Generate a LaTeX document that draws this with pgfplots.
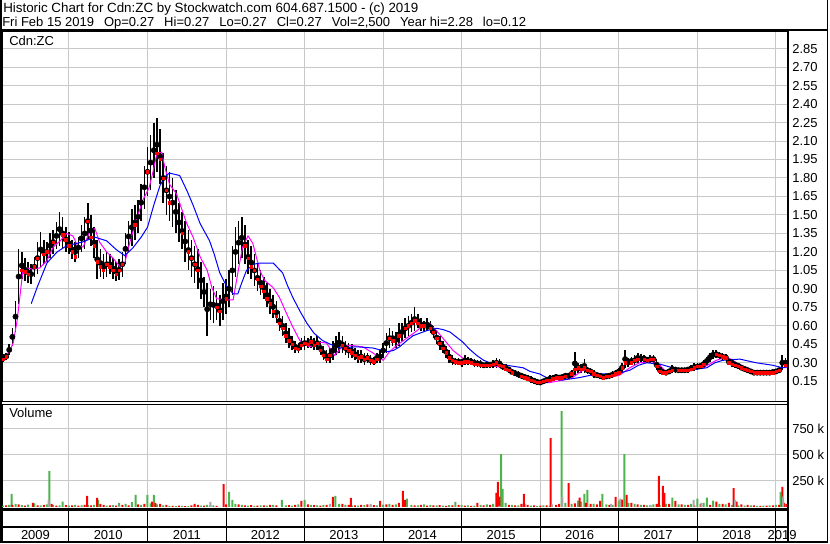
\documentclass[border=0pt]{standalone}
\usepackage{fontspec}
\setmainfont{Liberation Sans}
\usepackage{pgfplots}
\usepackage{pgfplotstable}
\pgfplotsset{compat=1.18}
\definecolor{gridgray}{HTML}{C8C8C8}
\definecolor{vgreen}{HTML}{4DB34D}
\definecolor{vgray}{HTML}{A8A8A8}
\definecolor{mablue}{HTML}{0000FF}
\definecolor{mamag}{HTML}{FF00FF}
\newcommand\gap{\hspace{7.5pt}}

% x = decimal year, lo/hi/cl = price range and close
\pgfplotstableread{
x lo hi cl
2009.16 0.31 0.37 0.33
2009.20 0.32 0.38 0.35
2009.24 0.36 0.45 0.42
2009.28 0.44 0.58 0.55
2009.32 0.55 0.80 0.76
2009.36 0.78 1.22 1.10
2009.40 0.98 1.20 1.05
2009.44 0.96 1.15 1.04
2009.48 0.95 1.12 1.02
2009.52 0.94 1.10 1.05
2009.56 1.00 1.16 1.08
2009.60 1.02 1.28 1.15
2009.64 1.08 1.36 1.25
2009.68 1.10 1.30 1.18
2009.72 1.12 1.28 1.20
2009.76 1.15 1.35 1.30
2009.80 1.18 1.38 1.28
2009.84 1.22 1.44 1.35
2009.88 1.25 1.52 1.40
2009.92 1.22 1.48 1.34
2009.96 1.20 1.40 1.30
2010.00 1.18 1.36 1.25
2010.04 1.14 1.30 1.20
2010.08 1.12 1.28 1.16
2010.12 1.15 1.32 1.25
2010.16 1.20 1.42 1.35
2010.20 1.22 1.48 1.40
2010.24 1.30 1.60 1.45
2010.28 1.25 1.50 1.32
2010.32 1.15 1.40 1.25
2010.36 0.98 1.30 1.12
2010.40 1.00 1.22 1.08
2010.44 0.98 1.18 1.05
2010.48 1.00 1.20 1.10
2010.52 1.02 1.18 1.08
2010.56 0.98 1.15 1.05
2010.60 0.96 1.12 1.02
2010.64 0.97 1.14 1.05
2010.68 1.00 1.20 1.10
2010.72 1.10 1.35 1.28
2010.76 1.20 1.45 1.35
2010.80 1.25 1.55 1.45
2010.84 1.30 1.58 1.42
2010.88 1.35 1.62 1.55
2010.92 1.45 1.75 1.65
2010.96 1.55 1.90 1.75
2011.00 1.65 2.05 1.85
2011.04 1.70 2.15 1.95
2011.08 1.80 2.25 2.05
2011.12 1.85 2.29 2.00
2011.16 1.75 2.20 1.95
2011.20 1.60 2.00 1.80
2011.24 1.50 1.90 1.70
2011.28 1.45 1.85 1.60
2011.32 1.40 1.80 1.65
2011.36 1.35 1.70 1.55
2011.40 1.28 1.60 1.45
2011.44 1.22 1.52 1.35
2011.48 1.12 1.45 1.30
2011.52 1.05 1.38 1.20
2011.56 1.00 1.30 1.15
2011.60 0.95 1.25 1.10
2011.64 0.90 1.22 1.05
2011.68 0.82 1.12 0.98
2011.72 0.75 1.00 0.90
2011.76 0.52 0.95 0.80
2011.80 0.65 0.90 0.78
2011.84 0.62 0.92 0.80
2011.88 0.65 0.88 0.75
2011.92 0.60 0.85 0.72
2011.96 0.65 0.95 0.85
2012.00 0.70 0.98 0.82
2012.04 0.75 1.05 0.95
2012.08 0.85 1.25 1.10
2012.12 1.00 1.40 1.25
2012.16 1.10 1.45 1.30
2012.20 1.15 1.48 1.35
2012.24 1.10 1.42 1.25
2012.28 1.02 1.30 1.15
2012.32 0.98 1.25 1.08
2012.36 0.92 1.18 1.05
2012.40 0.88 1.10 0.98
2012.44 0.85 1.05 0.92
2012.48 0.82 1.00 0.88
2012.52 0.75 0.95 0.82
2012.56 0.70 0.90 0.78
2012.60 0.66 0.85 0.72
2012.64 0.62 0.80 0.68
2012.68 0.56 0.72 0.62
2012.72 0.52 0.68 0.58
2012.76 0.46 0.62 0.52
2012.80 0.42 0.58 0.48
2012.84 0.40 0.52 0.45
2012.88 0.38 0.48 0.42
2012.92 0.38 0.46 0.41
2012.96 0.40 0.50 0.44
2013.00 0.40 0.52 0.46
2013.04 0.42 0.50 0.45
2013.08 0.42 0.52 0.47
2013.12 0.40 0.50 0.44
2013.16 0.40 0.52 0.46
2013.20 0.36 0.48 0.40
2013.24 0.32 0.44 0.36
2013.28 0.30 0.40 0.33
2013.32 0.30 0.42 0.36
2013.36 0.32 0.48 0.42
2013.40 0.36 0.52 0.45
2013.44 0.38 0.55 0.48
2013.48 0.38 0.52 0.44
2013.52 0.36 0.48 0.42
2013.56 0.34 0.46 0.40
2013.60 0.34 0.45 0.38
2013.64 0.32 0.42 0.36
2013.68 0.30 0.40 0.34
2013.72 0.30 0.40 0.35
2013.76 0.28 0.38 0.33
2013.80 0.30 0.38 0.34
2013.84 0.28 0.36 0.32
2013.88 0.28 0.35 0.31
2013.92 0.30 0.38 0.33
2013.96 0.30 0.40 0.36
2014.00 0.34 0.46 0.42
2014.04 0.38 0.54 0.48
2014.08 0.42 0.58 0.50
2014.12 0.44 0.56 0.48
2014.16 0.42 0.55 0.50
2014.20 0.44 0.62 0.52
2014.24 0.48 0.62 0.56
2014.28 0.50 0.66 0.58
2014.32 0.52 0.68 0.60
2014.36 0.55 0.70 0.62
2014.40 0.56 0.75 0.64
2014.44 0.58 0.70 0.62
2014.48 0.56 0.66 0.60
2014.52 0.56 0.64 0.60
2014.56 0.56 0.66 0.62
2014.60 0.54 0.64 0.58
2014.64 0.50 0.60 0.55
2014.68 0.45 0.56 0.50
2014.72 0.40 0.52 0.46
2014.76 0.38 0.48 0.42
2014.80 0.34 0.44 0.38
2014.84 0.30 0.40 0.34
2014.88 0.28 0.36 0.32
2014.92 0.28 0.34 0.31
2014.96 0.28 0.34 0.30
2015.00 0.27 0.33 0.30
2015.04 0.28 0.36 0.31
2015.08 0.28 0.35 0.31
2015.12 0.28 0.34 0.30
2015.16 0.27 0.33 0.29
2015.20 0.27 0.32 0.29
2015.24 0.26 0.32 0.28
2015.28 0.26 0.30 0.28
2015.32 0.26 0.31 0.28
2015.36 0.26 0.31 0.28
2015.40 0.26 0.32 0.29
2015.44 0.26 0.34 0.30
2015.48 0.26 0.33 0.28
2015.52 0.24 0.30 0.27
2015.56 0.23 0.29 0.25
2015.60 0.22 0.27 0.24
2015.64 0.20 0.25 0.22
2015.68 0.19 0.24 0.22
2015.72 0.18 0.23 0.21
2015.76 0.17 0.22 0.19
2015.80 0.16 0.21 0.18
2015.84 0.15 0.20 0.17
2015.88 0.14 0.19 0.16
2015.92 0.13 0.18 0.15
2015.96 0.12 0.17 0.14
2016.00 0.12 0.16 0.14
2016.04 0.13 0.17 0.15
2016.08 0.14 0.18 0.16
2016.12 0.14 0.20 0.16
2016.16 0.15 0.20 0.17
2016.20 0.16 0.21 0.18
2016.24 0.16 0.20 0.18
2016.28 0.16 0.21 0.18
2016.32 0.17 0.22 0.19
2016.36 0.17 0.22 0.20
2016.40 0.18 0.24 0.21
2016.44 0.20 0.39 0.25
2016.48 0.22 0.30 0.26
2016.52 0.22 0.29 0.25
2016.56 0.22 0.33 0.26
2016.60 0.21 0.27 0.24
2016.64 0.20 0.26 0.23
2016.68 0.18 0.24 0.21
2016.72 0.18 0.22 0.20
2016.76 0.17 0.22 0.19
2016.80 0.16 0.21 0.18
2016.84 0.17 0.21 0.19
2016.88 0.17 0.22 0.19
2016.92 0.18 0.23 0.20
2016.96 0.19 0.24 0.21
2017.00 0.20 0.26 0.22
2017.04 0.22 0.30 0.26
2017.08 0.26 0.40 0.30
2017.12 0.27 0.34 0.31
2017.16 0.28 0.35 0.30
2017.20 0.28 0.36 0.32
2017.24 0.30 0.38 0.33
2017.28 0.30 0.37 0.34
2017.32 0.31 0.36 0.33
2017.36 0.30 0.35 0.32
2017.40 0.30 0.36 0.33
2017.44 0.30 0.36 0.33
2017.48 0.24 0.33 0.27
2017.52 0.21 0.28 0.23
2017.56 0.20 0.25 0.22
2017.60 0.20 0.24 0.22
2017.64 0.21 0.25 0.23
2017.68 0.22 0.28 0.24
2017.72 0.22 0.27 0.25
2017.76 0.22 0.26 0.24
2017.80 0.22 0.26 0.24
2017.84 0.22 0.26 0.24
2017.88 0.22 0.27 0.24
2017.92 0.23 0.28 0.25
2017.96 0.23 0.30 0.26
2018.00 0.24 0.30 0.27
2018.04 0.25 0.30 0.27
2018.08 0.26 0.32 0.29
2018.12 0.28 0.35 0.32
2018.16 0.31 0.38 0.35
2018.20 0.33 0.40 0.37
2018.24 0.34 0.40 0.37
2018.28 0.33 0.39 0.36
2018.32 0.32 0.38 0.35
2018.36 0.32 0.37 0.34
2018.40 0.28 0.34 0.30
2018.44 0.27 0.33 0.29
2018.48 0.26 0.31 0.28
2018.52 0.25 0.30 0.27
2018.56 0.24 0.28 0.26
2018.60 0.23 0.27 0.25
2018.64 0.22 0.26 0.24
2018.68 0.21 0.25 0.23
2018.72 0.20 0.24 0.22
2018.76 0.20 0.24 0.22
2018.80 0.20 0.24 0.22
2018.84 0.20 0.24 0.22
2018.88 0.20 0.24 0.22
2018.92 0.20 0.24 0.22
2018.96 0.21 0.24 0.22
2019.00 0.21 0.25 0.23
2019.04 0.22 0.26 0.24
2019.08 0.24 0.36 0.32
2019.12 0.26 0.34 0.28
}\price

% volume in thousands, split by up / down / unchanged days
\pgfplotstableread{
x v
2009.16 12
2009.24 20
2009.27 125
2009.32 30
2009.40 18
2009.48 22
2009.56 35
2009.64 15
2009.72 25
2009.75 345
2009.80 20
2009.88 15
2009.92 50
2010.00 12
2010.08 20
2010.16 15
2010.24 18
2010.32 20
2010.37 67
2010.48 12
2010.56 18
2010.64 40
2010.72 30
2010.80 45
2010.85 115
2010.92 20
2011.00 115
2011.04 35
2011.08 115
2011.12 25
2011.20 15
2011.28 10
2011.36 8
2011.44 10
2011.52 8
2011.60 15
2011.68 12
2011.76 20
2011.84 15
2012.04 144
2012.08 67
2012.12 30
2012.20 20
2012.28 12
2012.36 10
2012.44 15
2012.52 12
2012.60 20
2012.71 67
2012.76 15
2012.84 12
2012.92 25
2013.00 67
2013.08 20
2013.16 15
2013.24 20
2013.39 106
2013.44 30
2013.52 20
2013.60 15
2013.68 12
2013.76 18
2013.84 20
2013.92 15
2014.00 22
2014.08 30
2014.16 25
2014.30 80
2014.36 20
2014.44 15
2014.52 25
2014.60 20
2014.68 15
2014.76 12
2014.84 18
2014.92 48
2015.00 20
2015.08 15
2015.16 12
2015.24 20
2015.32 25
2015.40 30
2015.50 508
2015.52 173
2015.56 40
2015.64 20
2015.72 15
2015.80 30
2015.88 12
2015.96 10
2016.04 15
2016.12 12
2016.27 922
2016.32 40
2016.40 30
2016.48 60
2016.52 50
2016.56 125
2016.60 163
2016.68 30
2016.79 125
2016.84 25
2016.92 20
2017.00 60
2017.07 508
2017.12 40
2017.20 30
2017.28 20
2017.36 15
2017.44 25
2017.52 20
2017.60 30
2017.68 90
2017.76 25
2017.84 20
2017.92 30
2018.00 80
2018.08 40
2018.12 90
2018.20 60
2018.28 30
2018.36 25
2018.44 20
2018.52 15
2018.60 12
2018.68 15
2018.76 10
2018.84 12
2018.92 15
2019.00 20
2019.06 144
2019.12 30
}\volup

\pgfplotstableread{
x v
2009.20 15
2009.28 20
2009.36 25
2009.44 12
2009.54 38
2009.60 15
2009.68 20
2009.78 30
2009.84 12
2009.96 18
2010.04 15
2010.12 12
2010.20 20
2010.23 106
2010.28 15
2010.36 86
2010.40 30
2010.44 20
2010.52 15
2010.60 12
2010.68 20
2010.76 15
2010.88 25
2010.96 30
2011.06 50
2011.10 40
2011.16 30
2011.24 20
2011.32 10
2011.40 12
2011.48 8
2011.56 15
2011.60 30
2011.64 20
2011.72 12
2011.80 15
2011.88 10
2011.97 220
2012.00 25
2012.16 25
2012.24 15
2012.32 18
2012.40 12
2012.48 15
2012.56 20
2012.64 15
2012.80 18
2012.88 20
2012.96 58
2013.04 25
2013.12 18
2013.20 12
2013.28 20
2013.36 96
2013.48 30
2013.56 20
2013.59 86
2013.64 15
2013.72 20
2013.80 25
2013.88 18
2013.96 58
2014.04 25
2014.12 20
2014.20 40
2014.25 154
2014.28 67
2014.40 15
2014.48 20
2014.56 12
2014.64 15
2014.72 18
2014.80 10
2014.88 15
2014.96 20
2015.04 12
2015.12 10
2015.20 40
2015.28 15
2015.36 20
2015.44 134
2015.46 240
2015.48 100
2015.60 20
2015.68 15
2015.76 30
2015.79 125
2015.84 20
2015.92 15
2016.00 12
2016.08 15
2016.13 662
2016.20 20
2016.24 30
2016.36 230
2016.44 35
2016.50 90
2016.58 40
2016.64 30
2016.72 25
2016.76 58
2016.88 20
2016.96 96
2017.04 70
2017.10 115
2017.16 40
2017.24 25
2017.32 20
2017.40 15
2017.48 30
2017.51 298
2017.56 202
2017.58 134
2017.64 30
2017.72 58
2017.80 25
2017.88 20
2017.96 15
2018.04 30
2018.16 20
2018.24 50
2018.32 30
2018.40 40
2018.46 182
2018.50 50
2018.56 25
2018.64 20
2018.72 15
2018.80 10
2018.88 12
2018.96 15
2019.04 20
2019.08 192
2019.10 40
2019.14 30
}\voldown

\pgfplotstableread{
x v
2009.74 67
2010.64 10
2011.80 48
2013.32 30
2013.84 30
2015.48 10
2016.15 25
2016.28 96
2016.90 30
2017.02 80
2017.40 20
2017.95 67
2018.05 40
2018.48 70
2019.09 100
}\volflat

\pgfplotsset{
  stock/.style={
    scale only axis, width=589.5pt,
    xmin=2009.148, xmax=2019.153,
    xtick={2010,2011,2012,2013,2014,2015,2016,2017,2018,2019},
    xticklabels={},
    xmajorgrids, ymajorgrids,
    grid style={gridgray, line width=0.75pt},
    major tick length=0pt,
    axis line style={black, line width=0.75pt},
    yticklabel pos=right,
    yticklabel style={anchor=west, inner sep=0pt, xshift=3pt},
    tick label style={font=\fontsize{9.75}{11}\selectfont},
    /pgf/number format/assume math mode=true,
  },
}

\begin{document}
\begin{tikzpicture}
\useasboundingbox (0,0) rectangle (622.5pt,407.25pt);

% header
\node[anchor=base west, inner sep=0pt] at (2.25pt,397.7pt)
  {\resizebox{311.25pt}{!}{\fontsize{9.75}{11}\selectfont Historic Chart for Cdn:ZC by Stockwatch.com 604.687.1500 - (c) 2019}};
\node[anchor=base west, inner sep=0pt] at (1.5pt,387.2pt)
  {\fontsize{9.75}{11}\selectfont Fri Feb 15 2019\gap Op=0.27\gap Hi=0.27\gap Lo=0.27\gap Cl=0.27\gap Vol=2,500\gap Year hi=2.28\gap lo=0.12};

% price panel
\begin{axis}[stock,
  at={(1.5pt,106.5pt)}, anchor=south west, height=276.75pt,
  ymin=-0.01, ymax=2.985,
  ytick={0.15,0.3,0.45,0.6,0.75,0.9,1.05,1.2,1.35,1.5,1.65,1.8,1.95,2.1,2.25,2.4,2.55,2.7,2.85},
  yticklabels={0.15,0.30,0.45,0.60,0.75,0.90,1.05,1.20,1.35,1.50,1.65,1.80,1.95,2.10,2.25,2.40,2.55,2.70,2.85},
  unbounded coords=discard,
]
\addplot[only marks, mark=none,
  error bars/.cd, y dir=both, y explicit, error mark=none,
  error bar style={black, line width=1.2pt, solid}]
  table[x=x, y expr={(\thisrow{lo}+\thisrow{hi})/2},
        y error expr={(\thisrow{hi}-\thisrow{lo})/2}] {\price};
% red marks on closes in the lower half of the bar
\addplot[only marks, mark=square*, mark size=0.9pt, color=red, mark options={draw=none}]
  table[x=x, y expr={\thisrow{cl} <= 0.5*(\thisrow{lo}+\thisrow{hi}) ? \thisrow{cl} : nan}] {\price};
\addplot[mamag, line width=0.75pt] coordinates {
(2009.20,0.36) (2009.25,0.40) (2009.29,0.46) (2009.34,0.64) (2009.38,0.86) (2009.41,1.03)
(2009.47,1.07) (2009.54,1.06) (2009.63,1.07) (2009.72,1.13) (2009.80,1.24) (2009.89,1.29)
(2009.97,1.35) (2010.05,1.33) (2010.11,1.25) (2010.18,1.24) (2010.27,1.37) (2010.33,1.39)
(2010.39,1.28) (2010.48,1.20) (2010.56,1.15) (2010.65,1.08) (2010.71,1.11) (2010.78,1.29)
(2010.87,1.48) (2010.94,1.62) (2011.02,1.72) (2011.07,1.85) (2011.12,2.00) (2011.18,2.01)
(2011.22,1.89) (2011.28,1.75) (2011.37,1.67) (2011.44,1.54) (2011.50,1.43) (2011.58,1.32)
(2011.67,1.16) (2011.76,1.05) (2011.82,0.91) (2011.88,0.82) (2012.01,0.81) (2012.09,0.81)
(2012.15,1.03) (2012.21,1.24) (2012.28,1.33) (2012.34,1.27) (2012.43,1.05) (2012.49,0.97)
(2012.60,0.91) (2012.68,0.83) (2012.77,0.70) (2012.85,0.59) (2012.94,0.48) (2013.03,0.44)
(2013.07,0.43) (2013.16,0.47) (2013.28,0.46) (2013.38,0.36) (2013.49,0.44) (2013.61,0.44)
(2013.74,0.43) (2013.87,0.38) (2014.00,0.32) (2014.08,0.39) (2014.17,0.44) (2014.30,0.50)
(2014.43,0.56) (2014.50,0.60) (2014.59,0.62) (2014.68,0.56) (2014.76,0.50) (2014.89,0.40)
(2015.01,0.34) (2015.19,0.30) (2015.36,0.28) (2015.52,0.26) (2015.70,0.22) (2015.87,0.18)
(2015.99,0.14) (2016.12,0.14) (2016.29,0.16) (2016.41,0.18) (2016.54,0.24) (2016.72,0.22)
(2016.88,0.18) (2017.01,0.20) (2017.14,0.26) (2017.26,0.30) (2017.43,0.31) (2017.52,0.28)
(2017.61,0.22) (2017.74,0.24) (2017.90,0.24) (2018.07,0.26) (2018.24,0.32) (2018.37,0.35)
(2018.50,0.30) (2018.63,0.26) (2018.79,0.22) (2018.96,0.22) (2019.07,0.26) (2019.15,0.26)
};
\addplot[mablue, line width=0.75pt] coordinates {
(2009.52,0.78) (2009.60,0.92) (2009.72,1.11) (2009.85,1.20) (2009.97,1.25) (2010.17,1.28)
(2010.33,1.32) (2010.48,1.29) (2010.60,1.22) (2010.71,1.17) (2010.81,1.23) (2010.92,1.32)
(2011.00,1.40) (2011.08,1.58) (2011.16,1.74) (2011.22,1.81) (2011.28,1.84) (2011.41,1.82)
(2011.50,1.70) (2011.58,1.58) (2011.67,1.43) (2011.79,1.29) (2011.85,1.18) (2011.92,1.03)
(2012.00,0.93) (2012.09,0.86) (2012.15,0.86) (2012.20,0.95) (2012.26,1.05) (2012.35,1.10)
(2012.43,1.11) (2012.60,1.11) (2012.72,1.03) (2012.78,0.93) (2012.85,0.83) (2012.94,0.72)
(2013.03,0.62) (2013.12,0.54) (2013.23,0.48) (2013.33,0.45) (2013.45,0.42) (2013.66,0.43)
(2013.87,0.42) (2014.05,0.39) (2014.13,0.40) (2014.21,0.43) (2014.30,0.48) (2014.38,0.52)
(2014.55,0.56) (2014.68,0.58) (2014.76,0.57) (2014.85,0.55) (2014.93,0.51) (2015.01,0.47)
(2015.10,0.41) (2015.19,0.36) (2015.28,0.32) (2015.36,0.30) (2015.57,0.28) (2015.78,0.26)
(2015.87,0.23) (2015.99,0.21) (2016.08,0.18) (2016.28,0.16) (2016.50,0.18) (2016.72,0.21)
(2016.97,0.21) (2017.14,0.24) (2017.25,0.28) (2017.35,0.30) (2017.52,0.29) (2017.68,0.26)
(2017.90,0.24) (2018.12,0.26) (2018.22,0.30) (2018.32,0.32) (2018.54,0.33) (2018.75,0.30)
(2018.96,0.28) (2019.08,0.26) (2019.15,0.27)
};
\end{axis}
\node[anchor=base west, inner sep=0pt, font=\fontsize{9.75}{11}\selectfont] at (6.75pt,372.75pt) {Cdn:ZC};

% volume panel
\begin{axis}[stock,
  at={(1.5pt,25.5pt)}, anchor=south west, height=78.75pt,
  ymin=-20, ymax=990,
  ytick={250,500,750}, yticklabels={250 k,500 k,750 k},
]
\addplot[ybar, bar width=1.5pt, bar shift=0pt, fill=vgreen, draw=none] table[x=x, y=v] {\volup};
\addplot[ybar, bar width=1.5pt, bar shift=0pt, fill=red, draw=none] table[x=x, y=v] {\voldown};
\addplot[ybar, bar width=1.5pt, bar shift=0pt, fill=vgray, draw=none] table[x=x, y=v] {\volflat};
\end{axis}
\node[anchor=base west, inner sep=0pt, font=\fontsize{9.75}{11}\selectfont] at (6.75pt,94.3pt) {Volume};

% date band
\begin{axis}[
  scale only axis, width=589.5pt, height=24pt,
  at={(1.5pt,0.75pt)}, anchor=south west,
  xmin=2009.148, xmax=2019.153, ymin=0, ymax=1,
  xtick={2010,2011,2012,2013,2014,2015,2016,2017,2018,2019}, xticklabels={},
  xmajorgrids, major grid style={black, line width=0.75pt},
  ytick=\empty,
  extra y ticks={0.47}, extra y tick labels={},
  extra y tick style={ymajorgrids, major grid style={black, line width=1.5pt}},
  extra x ticks={2009.574,2010.5,2011.5,2012.5,2013.5,2014.5,2015.5,2016.5,2017.5,2018.5,2019.077},
  extra x tick labels={2009,2010,2011,2012,2013,2014,2015,2016,2017,2018,2019},
  extra x tick style={xmajorgrids=false,
    tick label style={anchor=center, yshift=5.6pt, font=\fontsize{9.75}{11}\selectfont}},
  major tick length=0pt,
  axis line style={black, line width=1.5pt},
]
\end{axis}

% frame lines
\draw[black, line width=1.5pt] (0.75pt,0pt) -- (0.75pt,407.25pt);
\draw[black, line width=1pt] (620.6pt,0pt) -- (620.6pt,407.25pt);
\draw[black, line width=1.5pt] (0pt,384.4pt) -- (621pt,384.4pt);
\draw[black, line width=1.5pt] (591pt,0pt) -- (591pt,384.4pt);
\draw[black, line width=1.5pt] (0pt,1.1pt) -- (621pt,1.1pt);
\draw[black, line width=1.5pt] (0pt,25.5pt) -- (591pt,25.5pt);
\end{tikzpicture}
\end{document}
